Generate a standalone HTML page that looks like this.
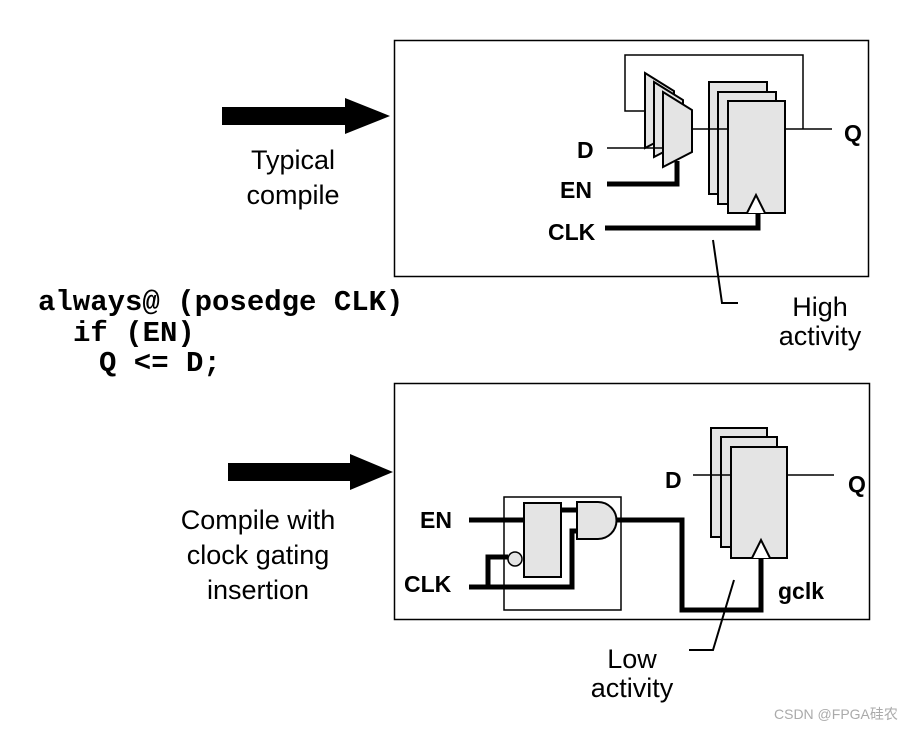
<!DOCTYPE html>
<html><head><meta charset="utf-8"><style>
html,body{margin:0;padding:0;background:#fff;}
svg{display:block}
</style></head><body>
<svg width="918" height="729" xmlns="http://www.w3.org/2000/svg" font-family="Liberation Sans, sans-serif">
<rect width="918" height="729" fill="#fff"/>
<polygon points="222,107 345,107 345,98 390,116 345,134 345,125 222,125" fill="#000"/>
<polygon points="228,463 350,463 350,454 393,472 350,490 350,481 228,481" fill="#000"/>
<g font-size="27" text-anchor="middle" fill="#000">
<text x="293" y="169">Typical</text><text x="293" y="204">compile</text>
<text x="258" y="529">Compile with</text><text x="258" y="564">clock gating</text><text x="258" y="599">insertion</text>
<text x="820" y="316">High</text><text x="820" y="345">activity</text>
<text x="632" y="668">Low</text><text x="632" y="697">activity</text>
</g>
<g font-family="Liberation Mono, monospace" font-weight="bold" font-size="29" fill="#000">
<text x="38" y="310">always@ (posedge CLK)</text>
<text x="73" y="341">if (EN)</text>
<text x="99" y="371">Q &lt;= D;</text>
</g>
<rect x="394.5" y="40.5" width="474" height="236" fill="none" stroke="#000" stroke-width="1.5"/>
<polyline points="785,129 832,129" stroke="#000" fill="none" stroke-width="1.5"/>
<polyline points="803,129 803,55 625,55 625,111 645,111" stroke="#000" fill="none" stroke-width="1.5"/>
<polygon points="645,73 674,91 674,133 645,148" fill="#e4e4e4" stroke="#000" stroke-width="2"/>
<polygon points="654,82 683,100 683,142 654,157" fill="#e4e4e4" stroke="#000" stroke-width="2"/>
<polygon points="663,92 692,110 692,152 663,167" fill="#e4e4e4" stroke="#000" stroke-width="2"/>
<line x1="607" y1="148" x2="663" y2="148" stroke="#000" stroke-width="1.5"/>
<polyline points="607,184 677,184 677,161" stroke="#000" stroke-width="5" fill="none"/>
<rect x="709" y="82" width="58" height="112" fill="#e4e4e4" stroke="#000" stroke-width="2"/>
<rect x="718" y="92" width="58" height="112" fill="#e4e4e4" stroke="#000" stroke-width="2"/>
<rect x="728" y="101" width="57" height="112" fill="#e4e4e4" stroke="#000" stroke-width="2"/>
<line x1="692" y1="129" x2="728" y2="129" stroke="#000" stroke-width="1.5"/>
<polyline points="747,213 756,195 765,213" fill="#fff" stroke="#000" stroke-width="2"/>
<polyline points="605,228 758,228 758,213" stroke="#000" stroke-width="5" fill="none"/>
<g font-size="23" font-weight="bold" fill="#000">
<text x="577" y="158">D</text><text x="560" y="198">EN</text><text x="548" y="240">CLK</text><text x="844" y="141">Q</text>
</g>
<polyline points="713,240 722,303 738,303" stroke="#000" stroke-width="2" fill="none"/>
<rect x="394.5" y="383.5" width="475" height="236" fill="none" stroke="#000" stroke-width="1.5"/>
<rect x="504" y="497" width="117" height="113" fill="none" stroke="#000" stroke-width="1.5"/>
<rect x="524" y="503" width="37" height="74" fill="#e4e4e4" stroke="#000" stroke-width="2"/>
<path d="M577,502 L598,502 A18.5,18.5 0 0 1 598,539 L577,539 Z" fill="#e4e4e4" stroke="#000" stroke-width="2"/>
<circle cx="515" cy="559" r="7" fill="#e4e4e4" stroke="#000" stroke-width="1.5"/>
<line x1="469" y1="520" x2="524" y2="520" stroke="#000" stroke-width="5"/>
<polyline points="469,587 572,587 572,531 577,531" stroke="#000" stroke-width="5" fill="none"/>
<polyline points="488,587 488,557 508,557" stroke="#000" stroke-width="5" fill="none"/>
<line x1="561" y1="510" x2="577" y2="510" stroke="#000" stroke-width="5"/>
<polyline points="616,520 682,520 682,610 761,610 761,558" stroke="#000" stroke-width="5" fill="none"/>
<rect x="711" y="428" width="56" height="109" fill="#e4e4e4" stroke="#000" stroke-width="2"/>
<rect x="721" y="437" width="56" height="110" fill="#e4e4e4" stroke="#000" stroke-width="2"/>
<rect x="731" y="447" width="56" height="111" fill="#e4e4e4" stroke="#000" stroke-width="2"/>
<line x1="693" y1="475" x2="731" y2="475" stroke="#000" stroke-width="1.5"/>
<line x1="787" y1="475" x2="834" y2="475" stroke="#000" stroke-width="1.5"/>
<polyline points="752,558 761,540 770,558" fill="#fff" stroke="#000" stroke-width="2"/>
<g font-size="23" font-weight="bold" fill="#000">
<text x="665" y="488">D</text><text x="848" y="492">Q</text><text x="420" y="528">EN</text><text x="404" y="592">CLK</text><text x="778" y="599">gclk</text>
</g>
<polyline points="734,580 713,650 689,650" stroke="#000" stroke-width="2" fill="none"/>
<text x="774" y="719" font-size="14" fill="#aaa" font-family="Liberation Sans, Noto Sans CJK SC, sans-serif">CSDN @FPGA硅农</text>
</svg>
</body></html>
